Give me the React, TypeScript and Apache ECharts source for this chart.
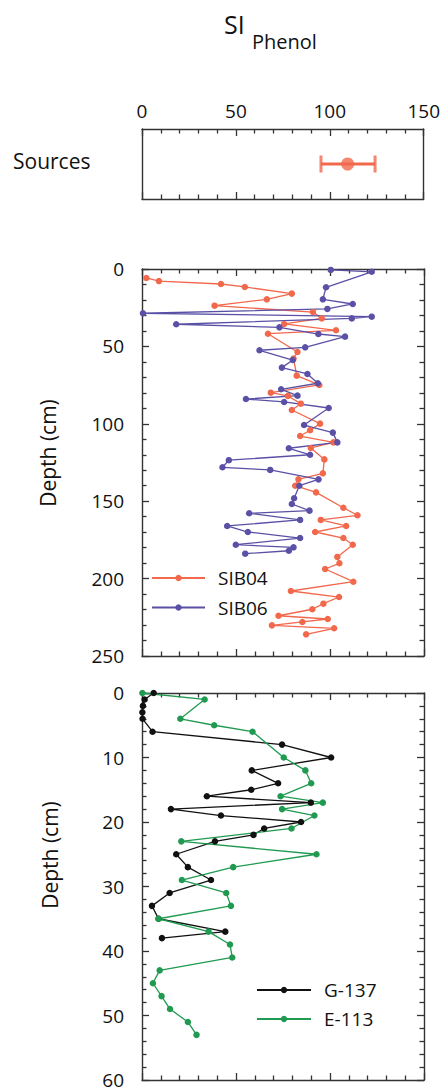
import React, { useEffect, useRef } from "react";
import * as echarts from "echarts";

// ---------- data ----------
const xTicks = [0, 50, 100, 150];

const sourceMean = 109.5;
const sourceLow = 95.3;
const sourceHigh = 124.1;

const sib04Value = [2.3, 9, 42, 54.7, 79.7, 66.4, 38.6, 90.9, 95.6, 75.6, 103.2, 67, 82.7, 80.6, 82.3, 94.3, 68.5, 77.6, 84.5, 79.7, 94.7, 89.4, 84.1, 101.8, 89.8, 97, 96.2, 83.2, 81.5, 92.6, 107.1, 114.6, 95.1, 108.6, 92.1, 107.1, 112.1, 103.9, 105, 97.4, 112.4, 79.2, 104.8, 96.5, 90.6, 72.6, 98.8, 85.3, 69.1, 102.2, 87.3];
const sib04Depth = [5.8, 7.8, 9.7, 11.6, 15.9, 19.6, 23.7, 27.8, 31.9, 35.5, 39.6, 41.8, 53.6, 57.9, 68.9, 74.9, 79.9, 82, 87, 91.1, 99.9, 104.2, 107.9, 112, 115.6, 123, 132, 135.9, 140, 144.3, 154.2, 159.1, 162.1, 166, 169.9, 173.8, 178.1, 186, 190.1, 193.8, 202, 208, 211.9, 216.2, 219.8, 224, 226.1, 228, 230.2, 232.1, 236];

const sib06Value = [100.4, 122.2, 97.9, 96.2, 112.1, 98.6, 0.5, 122.2, 111.6, 18.2, 73.1, 93.8, 108, 86.8, 62.5, 80.2, 74.4, 88, 93.5, 74, 82.7, 55.3, 75.6, 99.3, 86.2, 101.5, 103.9, 78.1, 89.4, 46.2, 42.8, 68.2, 93.9, 83.7, 80.9, 79.7, 89.1, 57, 84.1, 45.3, 56.3, 84.1, 49.9, 80.6, 78.1, 54.9];
const sib06Depth = [0.6, 1.8, 11.8, 19.6, 22.6, 25.8, 28.6, 30.8, 31.9, 35.7, 37.7, 42, 43.7, 50.6, 52.5, 58.8, 63.7, 67.8, 73.8, 77.7, 81.8, 84, 85.9, 89.8, 100.8, 105.7, 112, 115.8, 120, 123.5, 128.1, 129.8, 135.9, 140, 148.1, 151.8, 156.1, 157.8, 162.1, 166, 169.9, 173.8, 178.1, 179.8, 182, 183.9];

const g137Value = [6.2, 1.4, 0.5, 0.2, 0.3, 5.6, 74.5, 100.6, 58.4, 72.4, 58.1, 34.5, 89.8, 15.4, 42, 84.6, 65, 59.3, 38.8, 18.2, 24.4, 36.7, 14.7, 5.3, 8.8, 44.3, 10.6];
const g137Depth = [0, 1, 2, 3, 4, 6, 8, 10, 12, 14, 15, 16, 17, 18, 19, 20, 21, 22, 23, 25, 27, 29, 31, 33, 35, 37, 38];

const e113Value = [0.2, 33.3, 20.4, 38.4, 58.8, 75.4, 86.9, 90, 73.7, 96.2, 74.5, 91.7, 79.5, 20.9, 92.8, 48.5, 21.2, 44.8, 47.3, 8.8, 35.4, 46.8, 48, 9.4, 5.8, 10.4, 14.9, 24.4, 29];
const e113Depth = [0, 1, 4, 5, 6, 10, 12, 14, 16, 17, 18, 19, 21, 23, 25, 27, 29, 31, 33, 35, 37, 39, 41, 43, 45, 47, 49, 51, 53];

// ---------- style ----------
const FONT = "'Open Sans', 'Noto Sans', sans-serif";
const ORANGE = "#f2684c";
const PURPLE = "#5a50a6";
const BLACK = "#111111";
const GREEN = "#1f9a50";
const AXIS = "#333333";

const zip = (v: number[], d: number[]) => v.map((x, i) => [x, d[i]]);

const axisLine = () => ({ show: true, onZero: false, lineStyle: { color: AXIS, width: 1.4 } });
const tick = (len: number) => ({ show: true, inside: true, length: len, lineStyle: { color: AXIS, width: 1.3 } });
const minor = (len: number) => ({ show: true, splitNumber: 5, length: len, lineStyle: { color: AXIS, width: 1.3 } });

const xAx = (position: string, showLabel: boolean) => ({
  type: "value",
  position,
  min: xTicks[0],
  max: xTicks[xTicks.length - 1],
  interval: 50,
  axisLine: axisLine(),
  axisTick: tick(7),
  minorTick: minor(4.5),
  splitLine: { show: false },
  minorSplitLine: { show: false },
  axisLabel: {
    show: showLabel,
    margin: 9,
    fontFamily: FONT,
    fontSize: 19,
    lineHeight: 19,
    color: "#111",
    showMinLabel: true,
    showMaxLabel: true,
  },
});

const yAx = (position: string, max: number, interval: number, showLabel: boolean) => ({
  type: "value",
  position,
  inverse: true,
  min: 0,
  max,
  interval,
  axisLine: axisLine(),
  axisTick: tick(7),
  minorTick: minor(4.5),
  splitLine: { show: false },
  minorSplitLine: { show: false },
  axisLabel: {
    show: showLabel,
    margin: 18,
    fontFamily: FONT,
    fontSize: 19,
    lineHeight: 16,
    color: "#111",
    showMinLabel: true,
    showMaxLabel: true,
  },
});

const boxY = (position: string) => ({
  type: "value",
  position,
  min: 0,
  max: 1,
  axisLine: axisLine(),
  axisTick: { show: false },
  axisLabel: { show: false },
  splitLine: { show: false },
});

const lineSeries = (name: string, color: string, data: number[][]) => ({
  name,
  type: "line",
  xAxisIndex: 0,
  yAxisIndex: 0,
  data,
  symbol: "circle",
  symbolSize: 6.5,
  showSymbol: true,
  clip: false,
  lineStyle: { color, width: 1.3 },
  itemStyle: { color },
  z: 3,
});

const legendText = {
  fontFamily: FONT,
  fontSize: 19,
  color: "#111",
  lineHeight: 20,
  padding: [0, 0, 0, 8],
};

const depthLabel = (x: number, y: number) => ({
  type: "text",
  x,
  y,
  rotation: Math.PI / 2,
  style: {
    text: "Depth (cm)",
    fontFamily: FONT,
    fontSize: 21,
    fill: "#111",
    align: "center",
    verticalAlign: "middle",
  },
});

// Panel 1: title + sources (div top 0)
const topOption = {
  animation: false,
  grid: { left: 142, top: 129, width: 282, height: 70 },
  xAxis: [xAx("top", true), xAx("bottom", false)],
  yAxis: [boxY("left"), boxY("right")],
  graphic: [
    { type: "text", left: 224, top: 11, style: { text: "SI", fontFamily: FONT, fontSize: 25, fill: "#111" } },
    { type: "text", left: 252, top: 31, style: { text: "Phenol", fontFamily: FONT, fontSize: 20, fill: "#111" } },
    { type: "text", left: 13, top: 150, style: { text: "Sources", fontFamily: FONT, fontSize: 21, fill: "#111" } },
  ],
  series: [
    {
      name: "Sources range",
      type: "line",
      data: [
        [sourceLow, 0.5],
        [sourceHigh, 0.5],
      ],
      symbol: "none",
      lineStyle: { color: ORANGE, width: 3 },
      clip: false,
    },
    {
      name: "Sources caps",
      type: "scatter",
      data: [
        [sourceLow, 0.5],
        [sourceHigh, 0.5],
      ],
      symbol: "rect",
      symbolSize: [3, 17],
      itemStyle: { color: ORANGE },
    },
    {
      name: "Sources",
      type: "scatter",
      data: [[sourceMean, 0.5]],
      symbol: "circle",
      symbolSize: 13,
      itemStyle: { color: ORANGE },
    },
  ],
};

// Panel 2: SIB04 / SIB06 (div top 215)
const MID_TOP = 215;
const midOption = {
  animation: false,
  grid: { left: 142, top: 269 - MID_TOP, width: 282, height: 387 },
  xAxis: [xAx("top", false), xAx("bottom", false)],
  yAxis: [yAx("left", 250, 50, true), yAx("right", 250, 50, false)],
  legend: {
    data: ["SIB04", "SIB06"],
    orient: "vertical",
    left: 151,
    top: 568 - MID_TOP,
    padding: 0,
    itemWidth: 53,
    itemHeight: 8,
    itemGap: 9.5,
    textStyle: legendText,
    selectedMode: false,
  },
  graphic: [depthLabel(48, 453 - MID_TOP)],
  series: [
    lineSeries("SIB04", ORANGE, zip(sib04Value, sib04Depth)),
    lineSeries("SIB06", PURPLE, zip(sib06Value, sib06Depth)),
  ],
};

// Panel 3: G-137 / E-113 (div top 665)
const BOT_TOP = 665;
const botOption = {
  animation: false,
  grid: { left: 142, top: 693 - BOT_TOP, width: 282, height: 387 },
  xAxis: [xAx("top", false), xAx("bottom", false)],
  yAxis: [yAx("left", 60, 10, true), yAx("right", 60, 10, false)],
  legend: {
    data: ["G-137", "E-113"],
    orient: "vertical",
    left: 256,
    top: 980 - BOT_TOP,
    padding: 0,
    itemWidth: 54,
    itemHeight: 8,
    itemGap: 9,
    textStyle: legendText,
    selectedMode: false,
  },
  graphic: [depthLabel(50, 855 - BOT_TOP)],
  series: [
    lineSeries("G-137", BLACK, zip(g137Value, g137Depth)),
    lineSeries("E-113", GREEN, zip(e113Value, e113Depth)),
  ],
};

function Panel({ option, top, height }: { option: any; top: number; height: number }) {
  const ref = useRef<HTMLDivElement>(null);
  useEffect(() => {
    if (!ref.current) return;
    const chart = echarts.init(ref.current, undefined, { renderer: "svg" });
    chart.setOption(option);
    return () => chart.dispose();
  }, [option]);
  return <div ref={ref} style={{ position: "absolute", left: 0, top, width: 443, height }} />;
}

export default function App() {
  return (
    <div
      style={{
        position: "fixed",
        left: 0,
        top: 0,
        width: 443,
        height: 1091,
        background: "#fff",
        overflow: "hidden",
      }}
    >
      <Panel option={topOption} top={0} height={MID_TOP + 10} />
      <Panel option={midOption} top={MID_TOP} height={BOT_TOP - MID_TOP + 25} />
      <Panel option={botOption} top={BOT_TOP} height={460} />
    </div>
  );
}
